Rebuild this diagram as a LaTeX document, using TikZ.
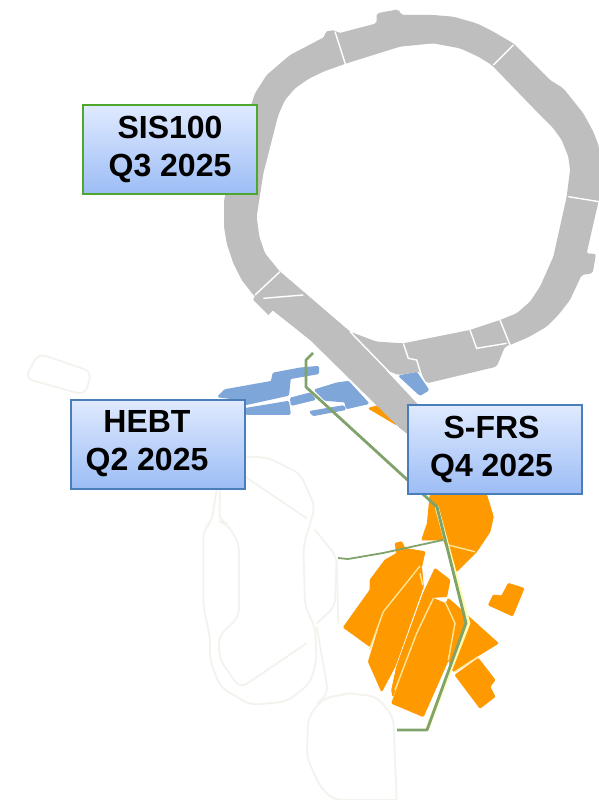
\documentclass[tikz,border=0pt]{standalone}
\usepackage{fontspec}
\setmainfont{Liberation Sans}
\definecolor{Prsten}{HTML}{BEBEBE}
\definecolor{Snop}{HTML}{7FA6D8}
\definecolor{Meta}{HTML}{FF9900}
\definecolor{Linija}{HTML}{7FA36A}
\definecolor{Obris}{HTML}{F3F3EE}
\definecolor{Plava}{HTML}{4A7EBB}
\definecolor{Zelena}{HTML}{4EA72E}
\definecolor{Svetla}{HTML}{E0EAFF}
\definecolor{Tamna}{HTML}{9CBDF5}
\definecolor{Zuta}{HTML}{FFE596}
\tikzset{
  kartaA/.style  = {shift={(200,0)}, scale=1/3},
  kartaB/.style  = {shift={(200,340)}, scale=1/3},
  kartaC/.style  = {shift={(320,490)}, scale=1/3},
  kartaD/.style  = {shift={(0,340)}, scale=1/3},
  prsten/.style  = {fill=Prsten, rounded corners=2pt, even odd rule},
  snop/.style    = {fill=Snop, draw=Snop, line width=1.6pt, rounded corners=1pt},
  meta/.style    = {fill=Meta, draw=Meta, line width=0.8pt, rounded corners=1pt},
  obris/.style   = {draw=Obris, line width=1.9pt, rounded corners=8pt},
  rez/.style     = {draw=white, line width=1.4pt},
  zuta/.style    = {draw=Zuta, line width=1.4pt},
  tunel/.style   = {draw=Linija, line width=2.8pt, line join=round},
  rok/.style     = {rectangle, draw=#1, line width=2pt, top color=Svetla,
                    bottom color=Tamna, align=center,
                    minimum width=174pt, minimum height=89pt, inner sep=0pt,
                    font=\fontsize{32}{38}\selectfont\bfseries},
}
\begin{document}
\begin{tikzpicture}[x=1pt, y=-1pt]
  \useasboundingbox (0,0) rectangle (599,800);

  \begin{scope}[kartaD]
    \draw[obris] (115,40) -- (275,95) -- (255,165) -- (75,115) -- cycle;
    \draw[obris] (650,450) -- (635,545) -- (610,570) -- (610,800) -- (630,890) -- (630,960)
      -- (660,1040) -- (750,1095) -- (860,1085) -- (930,1030) -- (950,960) -- (945,860)
      -- (915,800) -- (910,620) -- (945,500) -- (900,400) -- (800,352) -- (735,350);
    \draw[obris] (660,450) -- (658,545) -- (680,550) -- (717,610) -- (717,830) -- (655,890)
      -- (660,960) -- (720,1045) -- (920,910);
    \draw[obris] (735,410) -- (920,535);
    \draw[obris] (945,570) -- (1010,650) -- (1005,800) -- (950,850);
    \draw[obris] (950,860) -- (985,1060) -- (950,1090);
    \draw[obris] (1050,1060) -- (970,1075) -- (925,1130) -- (920,1250) -- (960,1340)
      -- (1000,1380) -- (1190,1380);
    \draw[obris] (1010,660) -- (1015,850);
    \draw[obris] (1050,1060) -- (1130,1070) -- (1180,1130) -- (1190,1380);
  \end{scope}

  \begin{scope}[kartaB]
    \fill[snop] (55,170) -- (75,150) -- (215,125) -- (220,100) -- (300,85) -- (355,80)
      -- (355,100) -- (270,115) -- (265,165) -- (138,193) -- (138,180) -- cycle;
    \fill[snop] (138,206) -- (265,185) -- (270,222) -- (138,222) -- cycle;
    \fill[snop] (272,175) -- (330,160) -- (345,178) -- (275,195) -- cycle;
    \fill[snop] (345,150) -- (410,130) -- (445,125) -- (505,190) -- (440,205) -- (435,185) -- (375,180) -- cycle;
    \fill[snop] (330,215) -- (430,198) -- (436,208) -- (340,226) -- cycle;
    \fill[snop] (598,108) -- (650,98) -- (685,150) -- (660,165) -- cycle;
    \fill[meta] (505,205) -- (540,195) -- (590,255) -- cycle;
  \end{scope}

  \begin{scope}[kartaA]
    \fill[prsten] (160,885) -- (125,840) -- (100,790) -- (80,730) -- (72,680) -- (72,600) -- (125,400)
      -- (165,280) -- (200,225) -- (270,165) -- (375,110) -- (375,95) -- (405,90) -- (415,100)
      -- (530,70) -- (530,40) -- (595,28) -- (605,45) -- (700,45) -- (760,50) -- (830,70) -- (880,95)
      -- (940,130) -- (1050,240) -- (1090,265) -- (1150,340) -- (1180,395) -- (1197,440) -- (1197,600)
      -- (1185,650) -- (1160,760) -- (1188,762) -- (1178,820) -- (1145,825) -- (1110,900)
      -- (1075,945) -- (1040,980) -- (985,1012) -- (930,1035) -- (915,1040) -- (890,1100) -- (680,1150)
      -- (660,1115) -- (595,1125) -- (330,1020) -- cycle
      (240,815) -- (195,760) -- (178,710) -- (170,650) -- (190,520) -- (235,345) -- (255,300) -- (285,265)
      -- (325,237) -- (370,215) -- (440,190) -- (600,140) -- (700,130) -- (780,145) -- (835,170) -- (875,195)
      -- (1020,345) -- (1060,385) -- (1085,420) -- (1105,470) -- (1110,510) -- (1100,590) -- (1060,770)
      -- (1020,860) -- (990,905) -- (950,940) -- (900,960) -- (810,990) -- (610,1030) -- (530,1025)
      -- (450,995) -- cycle;
    \fill[fill=Prsten] (160,900) -- (165,885) -- (240,815) -- (450,995) -- (660,1220) -- (660,1330)
      -- (600,1285) -- (330,1020) -- (225,925) -- (205,945) -- cycle;
    \draw[rez] (405,95) -- (437,195);
    \draw[rez] (940,135) -- (880,195);
    \draw[rez] (1105,590) -- (1197,605);
    \draw[rez] (240,815) -- (165,885);
    \draw[rez] (900,960) -- (930,1035);
    \draw[rez] (810,990) -- (830,1045) -- (920,1030);
    \draw[rez] (610,1030) -- (625,1075) -- (650,1080) -- (665,1130);
    \draw[rez] (190,895) -- (225,892) -- (310,885);
    \draw[rez] (450,995) -- (620,1170);
  \end{scope}

  \begin{scope}[kartaC]
    \fill[meta] (330,15) -- (500,15) -- (520,80) -- (510,125) -- (470,185) -- (410,245) -- (390,200)
      -- (370,150) -- (305,150) -- (322,100) -- cycle;
    \fill[meta] (150,270) -- (195,210) -- (230,190) -- (225,160) -- (245,155) -- (255,175) -- (315,185)
      -- (305,230) -- (192,362) -- (150,470) -- (70,412) -- (150,300) -- cycle;
    \fill[meta] (305,232) -- (310,290) -- (225,530) -- (185,605) -- (145,515) -- (192,362) -- cycle;
    \fill[meta] (345,235) -- (390,270) -- (380,320) -- (340,322) -- (290,425) -- (218,620) -- (215,600)
      -- (230,530) -- (310,310) -- cycle;
    \fill[meta] (340,325) -- (375,340) -- (405,400) -- (385,510) -- (310,680) -- (215,640) -- (290,430) -- cycle;
    \fill[meta] (385,325) -- (535,460) -- (470,500) -- (400,545) -- (385,510) -- (408,400) -- (378,340) -- cycle;
    \fill[meta] (475,505) -- (525,570) -- (510,590) -- (525,620) -- (480,655) -- (405,555) -- cycle;
    \fill[meta] (565,280) -- (612,295) -- (578,378) -- (505,345) -- (520,315) -- (545,318) -- cycle;
    \draw[zuta] (385,165) -- (465,185);
    \draw[zuta] (375,335) -- (405,400) -- (385,510);
    \draw[zuta] (405,545) -- (475,500);
    \draw[zuta] (190,365) -- (300,228);
    \draw[zuta] (190,365) -- (148,480);
    \draw[zuta] (225,600) -- (290,430) -- (340,325);
    \draw[zuta] (300,250) -- (308,285);
    \draw[draw=yellow!30!white, line width=4pt] (350,50) -- (445,400) -- (320,720);
  \end{scope}

  \coordinate (t1) at (313,353);
  \coordinate (t2) at (306,360);
  \coordinate (t3) at (306,387);
  \coordinate (t4) at (437,507);
  \coordinate (t5) at (466,623);
  \coordinate (t6) at (427,730);
  \coordinate (t7) at (397,730);
  \coordinate (g1) at (338,558);
  \coordinate (g2) at (348,559);
  \coordinate (g3) at (383,553);
  \coordinate (g4) at (443,540);
  \draw[tunel] (t1) -- (t2) -- (t3) -- (t4) -- (t5) -- (t6) -- (t7);
  \draw[tunel, line width=1.8pt] (g1) -- (g2) -- (g3) -- (g4);

  \node[rok=Zelena] (sis)  at (170,149) {SIS100\\Q3 2025};
  \node[rok=Plava]  (hebt) at (158,444) {HEBT\hspace*{22pt}\\Q2 2025\hspace*{22pt}};
  \node[rok=Plava]  (sfrs) at (494.5,449) {S-FRS\hspace*{6pt}\\Q4 2025\hspace*{6pt}};
\end{tikzpicture}
\end{document}
